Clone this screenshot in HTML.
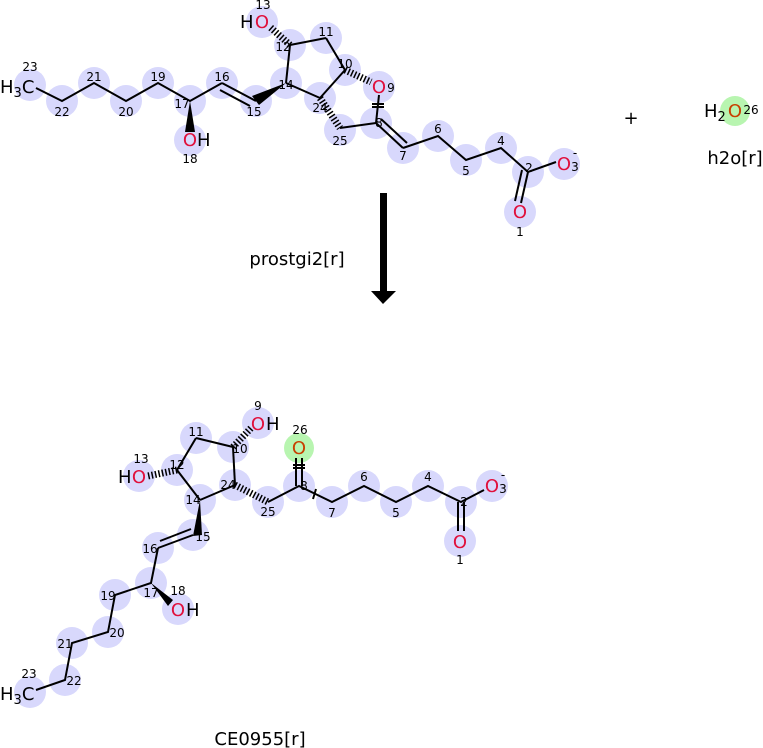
<!DOCTYPE html>
<html><head><meta charset="utf-8"><style>
body{margin:0;background:#fff}
svg{display:block;font-family:"DejaVu Sans","Liberation Sans",sans-serif}
.c circle{fill:#d8d8fc}
.g{fill:#b8f5b0}
.n{font-size:12px;fill:#000;text-anchor:middle}
.o{font-size:18px;fill:#e0103c;text-anchor:middle}
.h{font-size:18px;fill:#000}
line,polyline{stroke:#000;stroke-width:2;fill:none}
line.w{stroke-dasharray:1.5 2;stroke-width:7}
</style></head><body>
<svg width="763" height="748" viewBox="0 0 763 748">
<g class="c">
<circle cx="30" cy="85" r="16"/><circle cx="62" cy="101" r="16"/><circle cx="94" cy="83" r="16"/>
<circle cx="126" cy="101" r="16"/><circle cx="158" cy="83" r="16"/><circle cx="190" cy="101" r="16"/>
<circle cx="190" cy="140" r="16"/><circle cx="222" cy="83" r="16"/><circle cx="256" cy="101" r="16"/>
<circle cx="286" cy="83" r="16"/><circle cx="290" cy="45" r="16"/><circle cx="262" cy="22" r="16"/>
<circle cx="326" cy="38" r="16"/><circle cx="345" cy="70" r="16"/><circle cx="379" cy="87" r="16"/>
<circle cx="320" cy="98" r="16"/><circle cx="340" cy="130" r="16"/><circle cx="376" cy="123" r="16"/>
<circle cx="403" cy="148" r="16"/><circle cx="438" cy="136" r="16"/><circle cx="466" cy="160" r="16"/>
<circle cx="501" cy="148" r="16"/><circle cx="528" cy="172" r="16"/><circle cx="564" cy="164" r="16"/>
<circle cx="520" cy="212" r="16"/>
</g>
<circle class="g" cx="735" cy="111" r="15"/>
<polyline points="36,88 62,101 94,83 126,101 158,83 190,101 222,83"/>
<line x1="222" y1="83" x2="256" y2="101"/><line x1="220" y1="90" x2="250" y2="106"/>
<polygon points="190,101 185,132 195,132" fill="#000"/>
<polygon points="286,83 252,96 259,105" fill="#000"/>
<line x1="286" y1="83" x2="290" y2="45"/><line x1="290" y1="45" x2="326" y2="38"/>
<line x1="326" y1="38" x2="345" y2="70"/><line x1="345" y1="70" x2="320" y2="98"/>
<line x1="320" y1="98" x2="286" y2="83"/>
<line class="w" x1="290" y1="45" x2="270" y2="27"/>
<line class="w" x1="345" y1="70" x2="371" y2="82"/>
<line class="w" x1="320" y1="98" x2="340" y2="128"/>
<line x1="340" y1="128" x2="376" y2="123"/>
<line x1="379" y1="95" x2="376" y2="123"/>
<line x1="372" y1="104" x2="384" y2="104"/><line x1="372" y1="107" x2="384" y2="107"/>
<line x1="376" y1="123" x2="403" y2="148"/><line x1="381" y1="119" x2="407" y2="143"/>
<polyline points="403,148 438,136 466,160 501,148 528,172 556,162"/>
<line x1="528" y1="172" x2="521" y2="203"/><line x1="522" y1="170" x2="515" y2="201"/>
<text x="0" y="93" class="h">H<tspan font-size="13" dy="4">3</tspan><tspan dy="-4">C</tspan></text>
<text x="30" y="71" class="n">23</text><text x="62" y="116" class="n">22</text>
<text x="94" y="81" class="n">21</text><text x="126" y="116" class="n">20</text>
<text x="158" y="81" class="n">19</text><text x="182" y="108" class="n">17</text>
<text x="222" y="81" class="n">16</text><text x="254" y="116" class="n">15</text>
<text x="286" y="89" class="n">14</text><text x="283" y="51" class="n">12</text>
<text x="326" y="36" class="n">11</text><text x="345" y="68" class="n">10</text>
<text x="320" y="112" class="n">24</text><text x="340" y="145" class="n">25</text>
<text x="379" y="127" class="n">8</text><text x="403" y="160" class="n">7</text>
<text x="438" y="133" class="n">6</text><text x="466" y="175" class="n">5</text>
<text x="501" y="145" class="n">4</text><text x="529" y="172" class="n">2</text>
<text x="520" y="236" class="n">1</text><text x="190" y="163" class="n">18</text>
<text x="263" y="9" class="n">13</text>
<text x="190" y="146" class="o">O</text><text x="197" y="146" class="h">H</text>
<text x="262" y="28" class="o">O</text><text x="240" y="28" class="h">H</text>
<text x="379" y="93" class="o">O</text><text x="391" y="92" class="n">9</text>
<text x="564" y="170" class="o">O</text><text x="575" y="171" class="n">3</text>
<text x="575" y="157" class="n">-</text>
<text x="520" y="218" class="o">O</text>
<text x="631" y="124" class="h" text-anchor="middle" font-size="24">+</text>
<text x="704" y="117" class="h">H<tspan font-size="13" dy="4">2</tspan></text>
<text x="735" y="117" class="o" style="fill:#c84000">O</text><text x="751" y="114" class="n">26</text>
<text x="735" y="164" class="h" text-anchor="middle" font-size="16">h2o[r]</text>
<rect x="380" y="193" width="7" height="100" fill="#000"/>
<polygon points="371,291 396,291 383,304" fill="#000"/>
<text x="297" y="265" class="h" text-anchor="middle" font-size="16">prostgi2[r]</text>
<g class="c">
<circle cx="258" cy="423" r="16"/><circle cx="233" cy="447" r="16"/><circle cx="196" cy="438" r="16"/>
<circle cx="177" cy="470" r="16"/><circle cx="139" cy="476" r="16"/><circle cx="200" cy="500" r="16"/>
<circle cx="235" cy="485" r="16"/><circle cx="268" cy="502" r="16"/><circle cx="299" cy="486" r="16"/>
<circle cx="332" cy="502" r="16"/><circle cx="364" cy="486" r="16"/><circle cx="396" cy="502" r="16"/>
<circle cx="428" cy="486" r="16"/><circle cx="461" cy="502" r="16"/><circle cx="492" cy="486" r="16"/>
<circle cx="460" cy="541" r="16"/><circle cx="193" cy="535" r="16"/><circle cx="158" cy="548" r="16"/>
<circle cx="151" cy="583" r="16"/><circle cx="178" cy="609" r="16"/><circle cx="115" cy="595" r="16"/>
<circle cx="108" cy="632" r="16"/><circle cx="72" cy="643" r="16"/><circle cx="65" cy="680" r="16"/>
<circle cx="30" cy="692" r="16"/>
</g>
<circle class="g" cx="299" cy="448" r="15"/>
<line x1="233" y1="447" x2="196" y2="438"/><line x1="196" y1="438" x2="177" y2="470"/>
<line x1="177" y1="470" x2="200" y2="500"/><line x1="200" y1="500" x2="235" y2="485"/>
<line x1="235" y1="485" x2="233" y2="447"/>
<line class="w" x1="233" y1="447" x2="252" y2="427"/>
<line class="w" x1="177" y1="470" x2="148" y2="476"/>
<line class="w" x1="235" y1="485" x2="268" y2="502"/>
<polyline points="268,502 299,486 332,502 364,486 396,502 428,486 461,502 484,490"/>
<line x1="296" y1="486" x2="296" y2="458"/><line x1="302" y1="486" x2="302" y2="458"/>
<line x1="293" y1="465" x2="305" y2="465"/><line x1="293" y1="468" x2="305" y2="468"/>
<line x1="316" y1="489" x2="313" y2="499"/>
<line x1="458" y1="502" x2="458" y2="531"/><line x1="464" y1="502" x2="464" y2="531"/>
<polygon points="200,500 193,536 202,535" fill="#000"/>
<line x1="193" y1="535" x2="158" y2="548"/><line x1="191" y1="529" x2="160" y2="541"/>
<polyline points="158,548 151,583 115,595 108,632 72,643 65,680 36,690"/>
<polygon points="151,583 168,606 173,600" fill="#000"/>
<text x="258" y="410" class="n">9</text>
<text x="258" y="430" class="o">O</text><text x="266" y="430" class="h">H</text>
<text x="240" y="453" class="n">10</text><text x="196" y="436" class="n">11</text>
<text x="177" y="469" class="n">12</text><text x="141" y="463" class="n">13</text>
<text x="139" y="483" class="o">O</text><text x="118" y="483" class="h">H</text>
<text x="193" y="504" class="n">14</text><text x="228" y="489" class="n">24</text>
<text x="268" y="516" class="n">25</text><text x="304" y="490" class="n">8</text>
<text x="300" y="434" class="n">26</text>
<text x="299" y="454" class="o" style="fill:#c84000">O</text>
<text x="332" y="517" class="n">7</text><text x="364" y="481" class="n">6</text>
<text x="396" y="517" class="n">5</text><text x="428" y="481" class="n">4</text>
<text x="464" y="506" class="n">2</text>
<text x="492" y="492" class="o">O</text><text x="503" y="493" class="n">3</text>
<text x="503" y="479" class="n">-</text>
<text x="460" y="548" class="o">O</text><text x="460" y="564" class="n">1</text>
<text x="203" y="541" class="n">15</text><text x="150" y="553" class="n">16</text>
<text x="151" y="597" class="n">17</text><text x="178" y="595" class="n">18</text>
<text x="178" y="616" class="o">O</text><text x="186" y="616" class="h">H</text>
<text x="108" y="600" class="n">19</text><text x="117" y="637" class="n">20</text>
<text x="65" y="648" class="n">21</text><text x="74" y="685" class="n">22</text>
<text x="29" y="678" class="n">23</text>
<text x="0" y="700" class="h">H<tspan font-size="13" dy="4">3</tspan><tspan dy="-4">C</tspan></text>
<text x="260" y="745" class="h" text-anchor="middle" font-size="16">CE0955[r]</text>
</svg>
</body></html>
